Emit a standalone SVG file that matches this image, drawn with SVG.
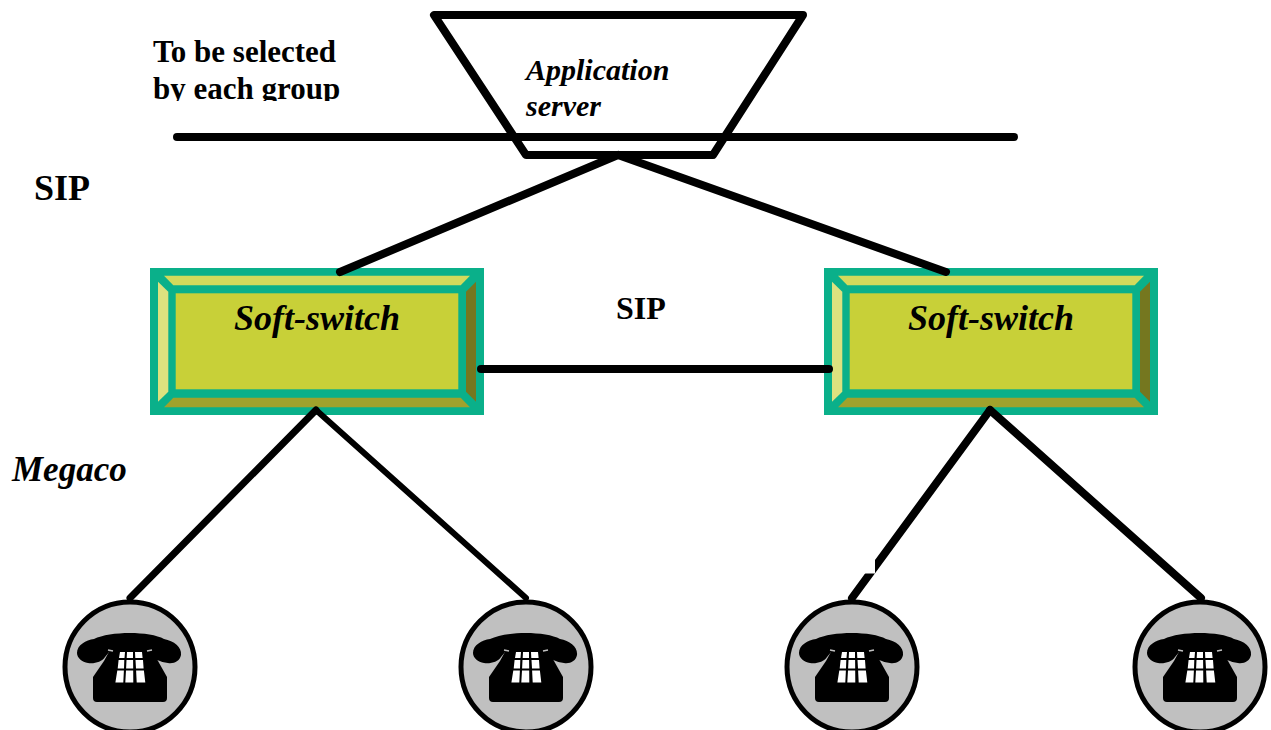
<svg xmlns="http://www.w3.org/2000/svg" xmlns:xlink="http://www.w3.org/1999/xlink" width="1271" height="730" viewBox="0 0 1271 730">
<style>
text{font-family:"Liberation Serif","Times New Roman",serif;font-weight:bold;fill:#000}
.i{font-style:italic}
.l{fill:none;stroke:#000;stroke-width:8;stroke-linecap:round;stroke-linejoin:round}
.ph{fill:#000}
.key{fill:#fff}
</style>
<defs>
<clipPath id="c1"><rect x="140" y="70" width="220" height="31"/></clipPath>
<g id="switch">
<rect x="150" y="268" width="334" height="147" fill="#0AB08A"/>
<polygon points="164,275.7 470,275.7 460.7,285.3 173.3,285.3" fill="#D2DA5C"/>
<polygon points="158,281.7 168.3,291.7 168.3,391.7 158,401.7" fill="#DDE27F"/>
<polygon points="476,281.7 466,291.7 466,391.7 476,401.7" fill="#75771F"/>
<polygon points="164,407.3 470,407.3 460.7,397.7 173.3,397.7" fill="#A0A22C"/>
<rect x="175.7" y="293.3" width="282.6" height="96" fill="#C8D038"/>
<text x="234" y="330" font-size="36" class="i">Soft-switch</text>
</g>
<g id="phone">
<circle cx="0" cy="0" r="65" fill="#C0C0C0" stroke="#000" stroke-width="5"/>
<path class="ph" d="M-53,-14 C-53,-22 -44,-27 -36,-28 C-20,-36 20,-36 34,-28 C44,-26 52,-20 51,-12 C50,-6 44,-3 38,-4 C30,-5 24,-8 22,-12 L20,-16 L-20,-16 L-25,-10 C-28,-5 -36,-3 -42,-4 C-48,-5 -53,-9 -53,-14 Z"/>
<path class="ph" d="M-20,-17 L22,-17 L28,-6 L37,10 L37,31 Q37,35 33,35 L-33,35 Q-37,35 -37,31 L-37,10 L-26,-6 Z"/>
<path class="key" d="M-10,-15 L-5,-15 L-5.5,-9 L-11,-9 Z M-3,-15 L3,-15 L3,-9 L-3.3,-9 Z M5,-15 L12,-15 L12.6,-9 L5.3,-9 Z M-11.4,-7 L-5.7,-7 L-6,1.5 L-12.3,1.5 Z M-3.5,-7 L3.1,-7 L3.2,1.5 L-3.9,1.5 Z M5.5,-7 L13,-7 L13.6,1.5 L6,1.5 Z M-12.7,3.5 L-6.1,3.5 L-6.7,15.5 L-14.6,15.5 Z M-4,3.5 L3.2,3.5 L3.3,15.5 L-4.7,15.5 Z M6.1,3.5 L13.9,3.5 L15.3,15.5 L6.7,15.5 Z"/>
<path d="M-22,-17 L-17,-16 M17,-16 L22,-17" stroke="#C0C0C0" stroke-width="1.5"/>
</g>
</defs>
<g id="application-server">
<polygon class="l" points="434,15 803,15 713,155 526,155"/>
<text x="526" y="80" font-size="30" class="i">Application</text>
<text x="526" y="116" font-size="30" class="i">server</text>
</g>
<g id="soft-switch-left"><use xlink:href="#switch" href="#switch"/></g>
<g id="soft-switch-right"><use xlink:href="#switch" href="#switch" x="674"/></g>
<g id="phone-1"><use xlink:href="#phone" href="#phone" x="130" y="667"/></g>
<g id="phone-2"><use xlink:href="#phone" href="#phone" x="526" y="667"/></g>
<g id="phone-3"><use xlink:href="#phone" href="#phone" x="852" y="667"/></g>
<g id="phone-4"><use xlink:href="#phone" href="#phone" x="1200" y="667"/></g>
<g id="connectors">
<path class="l" d="M177,137 L1014,137"/>
<path class="l" d="M618,155 L340,272"/>
<path class="l" d="M618,155 L946,272"/>
<path class="l" d="M481,369 L829,369"/>
<path class="l" style="stroke-width:7" d="M316,410 L130,598"/>
<path class="l" style="stroke-width:6" d="M316,410 L526,598"/>
<path class="l" d="M990,410 L852,598"/>
<path class="l" d="M990,410 L1201,598"/>
<rect x="860" y="558" width="15" height="15.5" fill="#fff"/>
</g>
<g id="labels">
<text x="153" y="62" font-size="31">To be selected</text>
<text x="153" y="99" font-size="31" clip-path="url(#c1)">by each group</text>
<text x="34" y="200" font-size="36">SIP</text>
<text x="616" y="319" font-size="32">SIP</text>
<text x="12" y="481" font-size="35" class="i">Megaco</text>
</g>
</svg>
